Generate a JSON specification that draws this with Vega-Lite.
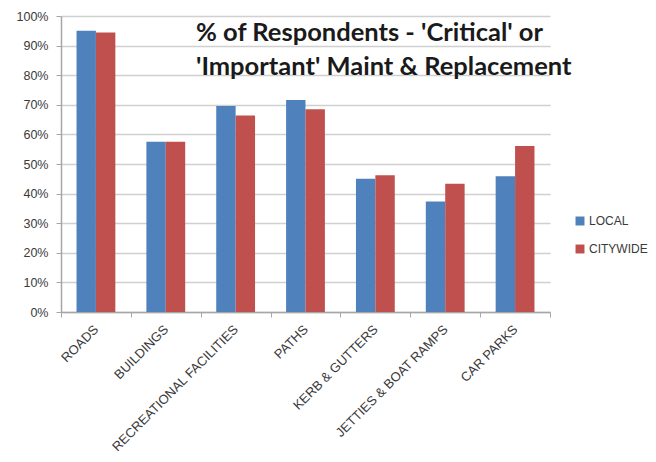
{
  "$schema": "https://vega.github.io/schema/vega-lite/v6.json",
  "autosize": {"type": "none"},
  "padding": {"left": 61, "top": 16, "right": 106, "bottom": 150},
  "width": 489,
  "height": 296,
  "background": "white",
  "title": {
    "text": ["% of Respondents - 'Critical' or", "'Important' Maint & Replacement"],
    "font": "Lato",
    "fontSize": 25.5,
    "fontWeight": "bold",
    "color": "#1a1a1a",
    "anchor": "start",
    "align": "left",
    "frame": "group",
    "baseline": "top",
    "lineHeight": 34,
    "dx": 135,
    "dy": 74
  },
  "data": {
    "values": [
      {"category": "ROADS", "series": "LOCAL", "value": 0.95},
      {"category": "ROADS", "series": "CITYWIDE", "value": 0.944},
      {"category": "BUILDINGS", "series": "LOCAL", "value": 0.575},
      {"category": "BUILDINGS", "series": "CITYWIDE", "value": 0.575},
      {"category": "RECREATIONAL FACILITIES", "series": "LOCAL", "value": 0.696},
      {"category": "RECREATIONAL FACILITIES", "series": "CITYWIDE", "value": 0.664},
      {"category": "PATHS", "series": "LOCAL", "value": 0.716},
      {"category": "PATHS", "series": "CITYWIDE", "value": 0.685},
      {"category": "KERB & GUTTERS", "series": "LOCAL", "value": 0.45},
      {"category": "KERB & GUTTERS", "series": "CITYWIDE", "value": 0.462},
      {"category": "JETTIES & BOAT RAMPS", "series": "LOCAL", "value": 0.373},
      {"category": "JETTIES & BOAT RAMPS", "series": "CITYWIDE", "value": 0.433},
      {"category": "CAR PARKS", "series": "LOCAL", "value": 0.459},
      {"category": "CAR PARKS", "series": "CITYWIDE", "value": 0.561}
    ]
  },
  "mark": {"type": "bar"},
  "encoding": {
    "x": {
      "field": "category",
      "type": "nominal",
      "sort": null,
      "scale": {"paddingInner": 0, "paddingOuter": 0},
      "axis": {
        "title": null,
        "labelAngle": -45,
        "labelAlign": "right",
        "labelBaseline": "middle",
        "labelFont": "Liberation Sans",
        "labelFontSize": 13,
        "labelColor": "#3a3a3a",
        "labelOffset": 0,
        "labelPadding": 10,
        "tickBand": "extent",
        "tickColor": "#a6a6a6",
        "tickSize": 5,
        "domainColor": "#a6a6a6",
        "domainWidth": 1.5,
        "grid": false
      }
    },
    "xOffset": {
      "field": "series",
      "type": "nominal",
      "sort": ["LOCAL", "CITYWIDE"],
      "scale": {"paddingInner": 0, "paddingOuter": 0.8}
    },
    "y": {
      "field": "value",
      "type": "quantitative",
      "scale": {"domain": [0, 1]},
      "axis": {
        "title": null,
        "format": ".0%",
        "values": [0, 0.1, 0.2, 0.3, 0.4, 0.5, 0.6, 0.7, 0.8, 0.9, 1],
        "labelFont": "Liberation Sans",
        "labelFontSize": 12.5,
        "labelColor": "#3a3a3a",
        "labelPadding": 8,
        "tickColor": "#a6a6a6",
        "tickSize": 5,
        "domainColor": "#a6a6a6",
        "domainWidth": 1.5,
        "gridColor": "#d0d0d0",
        "gridWidth": 1.5
      }
    },
    "color": {
      "field": "series",
      "type": "nominal",
      "sort": ["LOCAL", "CITYWIDE"],
      "scale": {"domain": ["LOCAL", "CITYWIDE"], "range": ["#4f81bd", "#c0504d"]},
      "legend": {
        "title": null,
        "orient": "none",
        "legendX": 513,
        "legendY": 199,
        "symbolType": "square",
        "symbolSize": 80,
        "symbolStrokeWidth": 0,
        "labelFont": "Liberation Sans",
        "labelFontSize": 12,
        "labelColor": "#3a3a3a",
        "rowPadding": 16,
        "labelOffset": 3
      }
    }
  },
  "config": {"view": {"stroke": null}}
}
